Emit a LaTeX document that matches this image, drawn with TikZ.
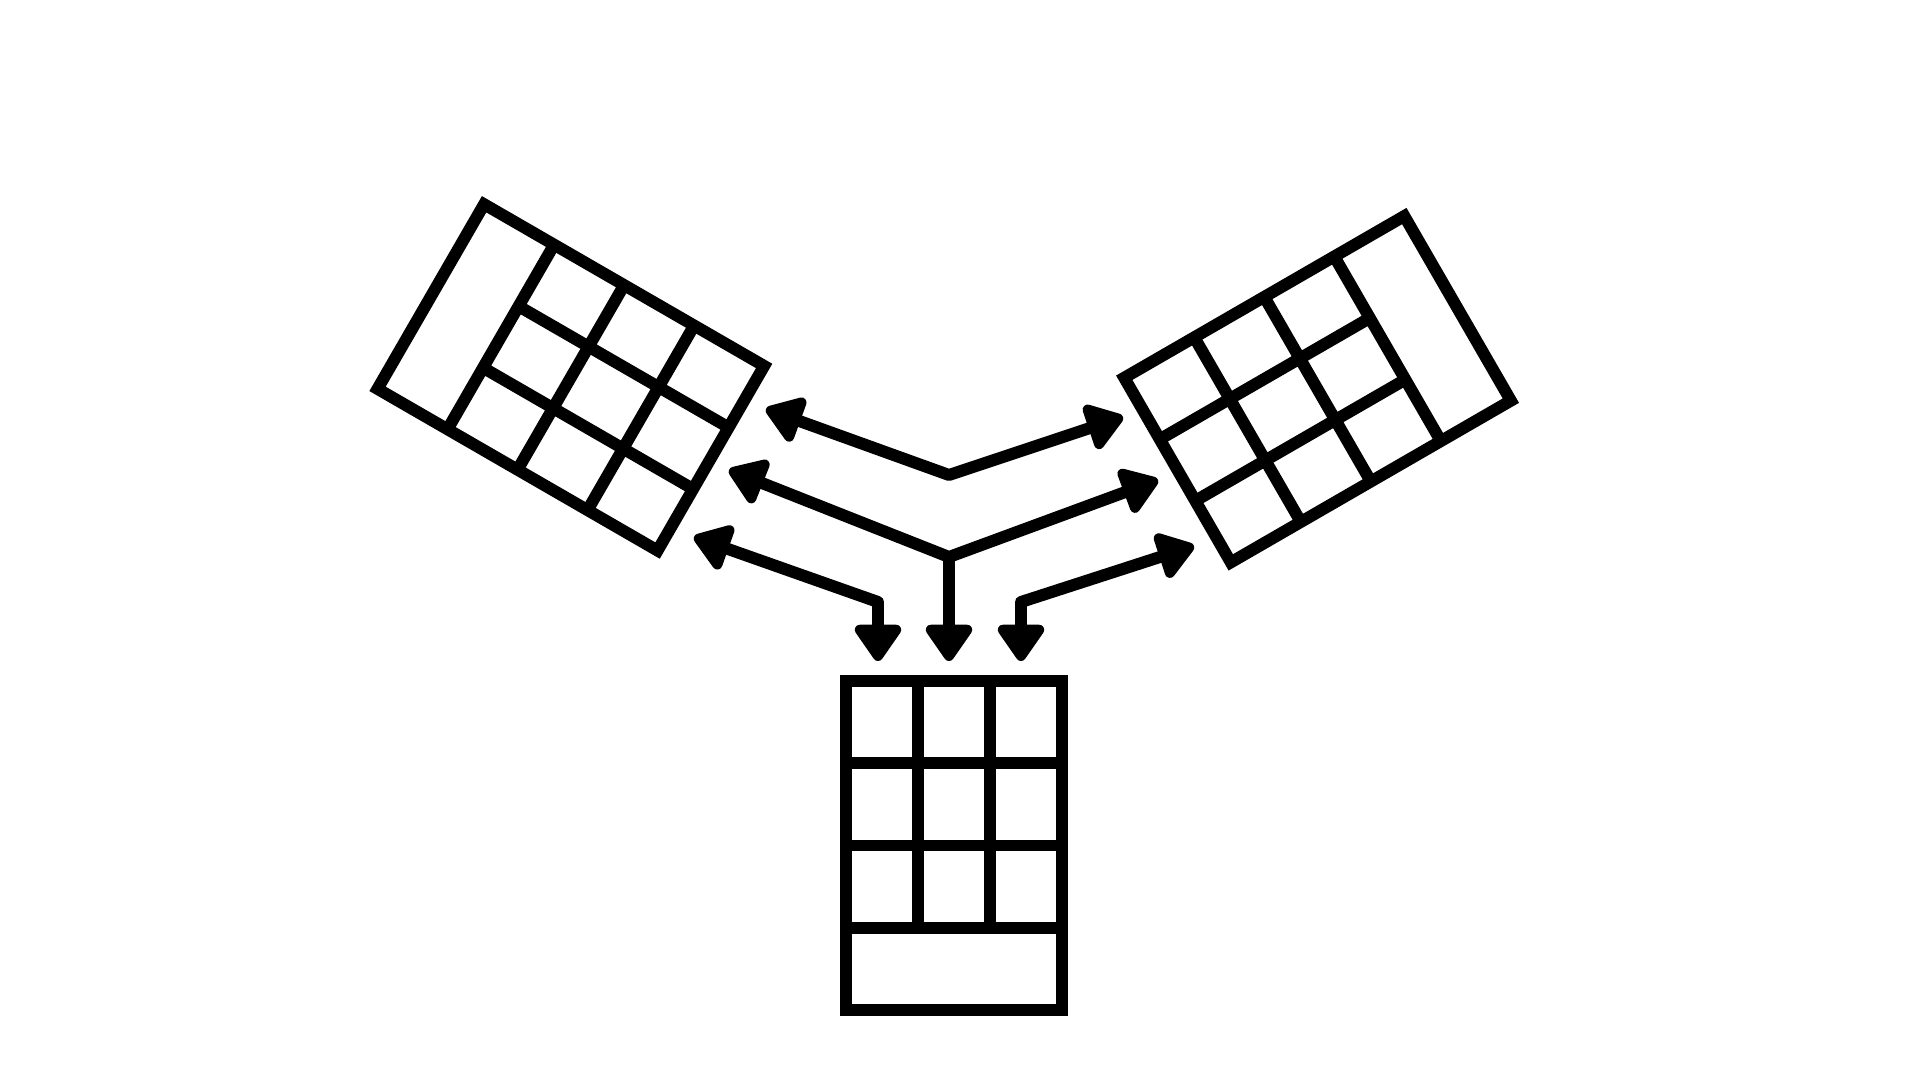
\documentclass[tikz,border=0pt]{standalone}
\usetikzlibrary{arrows.meta}
\tikzset{
  ink/.style={line width=3.4pt, black},
  panelline/.style={ink, line join=miter},
  conn/.style={ink, line join=round, line cap=butt},
  headtip/.tip={Triangle[width=15pt,length=11.5pt,round]},
  tipend/.style={-headtip},
  tipboth/.style={headtip-headtip},
  panel/.pic={
    \draw[panelline] (0,0)--(3,0)--(3,4)--(0,4)--cycle;
    \draw[panelline] (0,1)--(3,1) (0,2)--(3,2) (0,3)--(3,3)
                     (1,0)--(1,3) (2,0)--(2,3);
  }
}
\begin{document}
\begin{tikzpicture}[x=0.01cm,y=-0.01cm]
\useasboundingbox[fill=white] (0,0) rectangle (1920,1080);

% bottom panel
\begin{scope}[shift={(8.455cm,-6.81cm)}, x={(0.72cm,0cm)}, y={(0cm,-0.82cm)}]
  \pic (bottompanel) {panel};
\end{scope}
% left tilted panel
\begin{scope}[shift={(6.572cm,-5.5025cm)}, x={(0.355cm,0.615cm)}, y={(-0.6997cm,0.404cm)}]
  \pic (leftpanel) {panel};
\end{scope}
% right tilted panel
\begin{scope}[shift={(11.236cm,-3.7755cm)}, x={(0.355cm,-0.615cm)}, y={(0.6997cm,0.404cm)}]
  \pic (rightpanel) {panel};
\end{scope}

% connector points
\coordinate (l1) at (766,409);
\coordinate (v1) at (949,475);
\coordinate (r1) at (1123,417);
\coordinate (l2) at (729,470);
\coordinate (v2) at (949,557);
\coordinate (r2) at (1158,480);
\coordinate (d2) at (949,661);
\coordinate (l3) at (694,537);
\coordinate (e3) at (878,602);
\coordinate (d3) at (878,661);
\coordinate (r4) at (1194,546);
\coordinate (e4) at (1021,602);
\coordinate (d4) at (1021,661);

\draw[conn, tipboth] (l1) -- (v1) -- (r1);
\draw[conn, tipboth] (l2) -- (v2) -- (r2);
\draw[conn, tipend] (v2) -- (d2);
\draw[conn, tipboth] (l3) -- (e3) -- (d3);
\draw[conn, tipboth] (r4) -- (e4) -- (d4);
\end{tikzpicture}
\end{document}
